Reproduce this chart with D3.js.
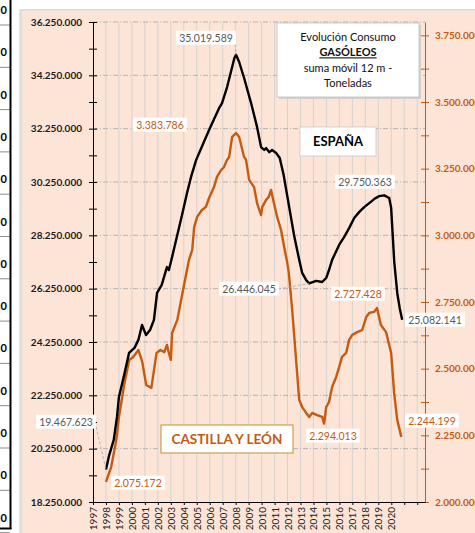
<!DOCTYPE html>
<html>
<head>
<meta charset="utf-8">
<script src="https://cdn.jsdelivr.net/npm/d3@7"></script>
<style>
  body { margin: 0; background: #fff; }
  svg { display: block; font-family: Lato, "Open Sans", sans-serif; }
</style>
</head>
<body>
<svg id="chart" width="475" height="533" viewBox="0 0 475 533"></svg>
<script>
// ESPAÑA (toneladas, suma móvil 12 m) - fecha en años decimales
const espanaDates = [1998.0, 1998.25, 1998.6, 1998.85, 1999.0, 1999.4, 1999.78, 2000.2, 2000.5, 2000.78,
    2001.09, 2001.4, 2001.7, 2001.94, 2002.3, 2002.7, 2002.85, 2003.1, 2003.5, 2003.9,
    2004.25, 2004.56, 2004.95, 2005.45, 2005.95, 2006.72, 2006.95, 2007.34, 2007.73, 2007.9,
    2008.03, 2008.27, 2008.65, 2009.19, 2009.65, 2009.96, 2010.2, 2010.35, 2010.6, 2010.81,
    2011.12, 2011.4, 2011.7, 2012.1, 2012.5, 2012.9, 2013.13, 2013.44, 2013.67, 2014.2,
    2014.67, 2014.98, 2015.2, 2015.44, 2015.98, 2016.37, 2016.75, 2017.14, 2017.52, 2017.91,
    2018.3, 2018.68, 2019.07, 2019.45, 2019.84, 2019.99, 2020.23, 2020.46, 2020.65, 2020.84];
const espanaValues = [19467623, 20010000, 20580000, 21440000, 22190000, 23010000, 23840000, 24030000, 24330000, 24890000,
    24510000, 24700000, 25080000, 26090000, 26390000, 27060000, 26950000, 27440000, 28260000, 29090000,
    29840000, 30440000, 31070000, 31640000, 32200000, 33020000, 33210000, 33810000, 34560000, 34900000,
    35019589, 34750000, 34150000, 33210000, 32310000, 31560000, 31450000, 31520000, 31370000, 31450000,
    31340000, 31150000, 30510000, 29390000, 28260000, 27330000, 26840000, 26570000, 26446045, 26540000,
    26500000, 26650000, 26950000, 27330000, 27890000, 28190000, 28520000, 28900000, 29120000, 29310000,
    29460000, 29610000, 29720000, 29750363, 29650000, 29280000, 27250000, 26090000, 25520000, 25082141];

// CASTILLA Y LEÓN
const cylDates = [1998.0, 1998.4, 1998.8, 1999.0, 1999.4, 1999.8, 2000.1, 2000.5, 2000.8, 2001.1,
    2001.5, 2001.9, 2002.2, 2002.5, 2002.7, 2002.85, 2003.0, 2003.1, 2003.5, 2003.9,
    2004.2, 2004.4, 2004.65, 2004.8, 2005.03, 2005.4, 2005.7, 2005.95, 2006.33, 2006.56,
    2006.88, 2007.1, 2007.34, 2007.5, 2007.73, 2008.03, 2008.27, 2008.65, 2008.8, 2009.04,
    2009.42, 2009.65, 2009.96, 2010.05, 2010.35, 2010.55, 2010.73, 2010.95, 2011.2, 2011.5,
    2011.74, 2011.97, 2012.1, 2012.36, 2012.66, 2012.9, 2013.13, 2013.44, 2013.67, 2013.9,
    2014.28, 2014.67, 2014.82, 2014.98, 2015.2, 2015.44, 2015.75, 2015.98, 2016.2, 2016.52,
    2016.75, 2016.98, 2017.37, 2017.76, 2018.07, 2018.3, 2018.68, 2018.9, 2019.2, 2019.6,
    2019.99, 2020.22, 2020.46, 2020.77];
const cylValues = [2075172, 2131000, 2233000, 2319000, 2439000, 2533000, 2544000, 2570000, 2525000, 2439000,
    2428000, 2559000, 2570000, 2562000, 2589000, 2559000, 2533000, 2634000, 2683000, 2784000,
    2859000, 2908000, 2945000, 3031000, 3069000, 3095000, 3106000, 3140000, 3181000, 3219000,
    3245000, 3256000, 3283000, 3294000, 3369000, 3383786, 3369000, 3294000, 3283000, 3208000,
    3181000, 3121000, 3076000, 3106000, 3133000, 3144000, 3170000, 3121000, 3069000, 3020000,
    2956000, 2900000, 2859000, 2720000, 2533000, 2383000, 2356000, 2334000, 2319000, 2334000,
    2326000, 2319000, 2294013, 2356000, 2375000, 2431000, 2469000, 2506000, 2544000, 2559000,
    2608000, 2626000, 2637000, 2645000, 2694000, 2709000, 2713000, 2727428, 2664000, 2637000,
    2559000, 2409000, 2308000, 2244199];

const years = d3.range(1997, 2023);
const labelYears = d3.range(1997, 2021);
const leftTicks = d3.range(18250000, 36250001, 1000000);
const rightTicks = d3.range(2000000, 3800001, 125000);

const titleLines = ["Evolución Consumo", "GASÓLEOS", "suma móvil 12 m -", "Toneladas"];

const fmt = v => d3.format(",")(v).replace(/,/g, ".");

const svg = d3.select("#chart");
const orange = "#C55A11";

// tabla recortada a la izquierda
const tableRows = d3.range(0, 13);
svg.append("g").selectAll("line")
    .data(tableRows)
    .enter()
    .append("line")
    .attr("x1", 0).attr("x2", 10)
    .attr("y1", d => 25 + d * 42.3).attr("y2", d => 25 + d * 42.3)
    .attr("stroke", "#8c8c8c").attr("stroke-width", 1);
svg.append("g").selectAll("text")
    .data(tableRows)
    .enter()
    .append("text")
    .attr("x", 7).attr("y", d => 14 + d * 42.3)
    .attr("text-anchor", "end")
    .attr("font-weight", "bold").attr("font-size", 11)
    .text("0");
svg.append("line").attr("x1", 10.5).attr("x2", 10.5).attr("y1", 0).attr("y2", 529)
    .attr("stroke", "#000").attr("stroke-width", 2);
svg.append("line").attr("x1", 0).attr("x2", 11.5).attr("y1", 528.5).attr("y2", 528.5)
    .attr("stroke", "#000").attr("stroke-width", 2);

// fondo del gráfico
svg.append("rect").attr("x", 19).attr("y", 9).attr("width", 470).attr("height", 540)
    .attr("fill", "#e6e6e6");
svg.append("rect").attr("x", 21).attr("y", 10).attr("width", 460).attr("height", 540)
    .attr("fill", "#FCE4D6").attr("stroke", "#d0d0d0").attr("stroke-width", 0.8);

const x = d3.scaleLinear().domain([1997, 2022.6]).range([93, 425]);
const yL = d3.scaleLinear().domain([18250000, 36250000]).range([502, 22]);
const yR = d3.scaleLinear().domain([2000000, 3800000]).range([502, 22]);

// rejilla vertical
svg.append("g").selectAll("line")
    .data(years.slice(1))
    .enter()
    .append("line")
    .attr("x1", d => x(d)).attr("x2", d => x(d))
    .attr("y1", yL.range()[1]).attr("y2", yL.range()[0])
    .attr("stroke", "#d6d3d0").attr("stroke-width", 1);

// rejilla horizontal
svg.append("g").selectAll("line")
    .data(leftTicks.filter((d, i) => i % 2 === 0 && i > 0))
    .enter()
    .append("line")
    .attr("x1", x.range()[0]).attr("x2", x.range()[1])
    .attr("y1", d => yL(d)).attr("y2", d => yL(d))
    .attr("stroke", "#a6a6a6").attr("stroke-width", 0.8)
    .attr("stroke-dasharray", "5,2,1,2");

// eje izquierdo
const leftAxis = svg.append("g").attr("transform", `translate(${x.range()[0]},0)`)
    .call(d3.axisLeft(yL).tickValues(leftTicks).tickSizeInner(4).tickSizeOuter(0)
        .tickFormat((d, i) => i % 2 === 0 ? fmt(d) : ""));
leftAxis.select(".domain").attr("stroke", "#000");
leftAxis.selectAll(".tick line").attr("x2", 4).attr("x1", -4).attr("stroke", "#000");
leftAxis.selectAll(".tick text")
    .attr("x", -11)
    .attr("font-family", "Lato, sans-serif").attr("font-size", 10).attr("font-weight", "bold")
    .attr("fill", "#1a1a1a");

// eje derecho
const rightAxis = svg.append("g").attr("transform", `translate(${x.range()[1]},0)`)
    .call(d3.axisRight(yR).tickValues(rightTicks).tickSizeInner(4).tickSizeOuter(0)
        .tickFormat((d, i) => i % 2 === 0 ? fmt(d) : ""));
rightAxis.select(".domain").attr("stroke", orange);
rightAxis.selectAll(".tick line").attr("x1", -4).attr("x2", 4).attr("stroke", orange);
rightAxis.selectAll(".tick text")
    .attr("x", 10)
    .attr("font-family", "Lato, sans-serif").attr("font-size", 10).attr("font-weight", "bold")
    .attr("fill", orange);

// eje x
const xAxis = svg.append("g").attr("transform", `translate(0,${yL.range()[0]})`)
    .call(d3.axisBottom(x).tickValues(years).tickSizeInner(3).tickSizeOuter(0)
        .tickFormat(d => labelYears.includes(d) ? String(d) : ""));
xAxis.select(".domain").attr("stroke", "#000");
xAxis.selectAll(".tick line").attr("stroke", "#000");
xAxis.selectAll(".tick text")
    .attr("transform", "rotate(-90)")
    .attr("text-anchor", "end")
    .attr("x", -5).attr("y", 0).attr("dy", "0.35em")
    .attr("font-family", "Lato, sans-serif").attr("font-size", 10)
    .attr("fill", "#222");

// líneas
const espana = espanaDates.map((d, i) => ({ t: d, v: espanaValues[i] }));
const cyl = cylDates.map((d, i) => ({ t: d, v: cylValues[i] }));

svg.append("path").datum(cyl)
    .attr("fill", "none").attr("stroke", orange).attr("stroke-width", 2.4)
    .attr("stroke-linejoin", "round")
    .attr("d", d3.line().x(d => x(d.t)).y(d => yR(d.v)));
svg.append("path").datum(espana)
    .attr("fill", "none").attr("stroke", "#000").attr("stroke-width", 2.4)
    .attr("stroke-linejoin", "round")
    .attr("d", d3.line().x(d => x(d.t)).y(d => yL(d.v)));

// etiquetas de datos
const espanaLabels = [
    { v: 19467623, cx: 66, cy: 422, lead: true },
    { v: 35019589, cx: 206, cy: 38, lead: true },
    { v: 26446045, cx: 249, cy: 289, lead: true },
    { v: 29750363, cx: 365, cy: 182, lead: false },
    { v: 25082141, cx: 435, cy: 320, lead: false }
];
const cylLabels = [
    { v: 2075172, cx: 138, cy: 483 },
    { v: 3383786, cx: 160, cy: 125 },
    { v: 2294013, cx: 333, cy: 436 },
    { v: 2727428, cx: 358, cy: 294 },
    { v: 2244199, cx: 432, cy: 421 }
];

function pointOf(series, v) {
    return series.find(d => d.v === v);
}

espanaLabels.filter(d => d.lead).forEach(d => {
    const p = pointOf(espana, d.v);
    const w = 58;
    const sx = d.cx + (x(p.t) > d.cx ? w / 2 : -w / 2);
    svg.append("line")
        .attr("x1", sx).attr("y1", d.cy + (d.cy < 60 ? 6 : 0))
        .attr("x2", x(p.t)).attr("y2", yL(p.v))
        .attr("stroke", "#a6a6a6").attr("stroke-width", 0.8)
        .attr("stroke-dasharray", "3,2");
});

function drawLabel(d, color) {
    const g = svg.append("g");
    const t = g.append("text")
        .attr("x", d.cx).attr("y", d.cy).attr("dy", "0.35em")
        .attr("text-anchor", "middle")
        .attr("font-family", "Lato, sans-serif").attr("font-size", 10.5)
        .attr("fill", color)
        .text(fmt(d.v));
    const b = t.node().getBBox();
    g.insert("rect", "text")
        .attr("x", b.x - 3).attr("y", b.y - 1)
        .attr("width", b.width + 6).attr("height", b.height + 2)
        .attr("fill", "#fff");
}
espanaLabels.forEach(d => drawLabel(d, "#595959"));
cylLabels.forEach(d => drawLabel(d, orange));

// título
svg.append("rect").attr("x", 279).attr("y", 25).attr("width", 142).attr("height", 74)
    .attr("fill", "#d5d0cc");
svg.append("rect").attr("x", 277).attr("y", 23).attr("width", 142).attr("height", 74)
    .attr("fill", "#fff").attr("stroke", "#bfbfbf").attr("stroke-width", 0.8);
svg.append("g").selectAll("text")
    .data(titleLines)
    .enter()
    .append("text")
    .attr("x", 348).attr("y", (d, i) => 37 + i * 15.5).attr("dy", "0.35em")
    .attr("text-anchor", "middle")
    .attr("font-family", "Lato, sans-serif").attr("font-size", 11)
    .attr("font-weight", (d, i) => i === 1 ? "bold" : "normal")
    .attr("text-decoration", (d, i) => i === 1 ? "underline" : "none")
    .attr("fill", "#111")
    .text(d => d);

// rótulos de serie
svg.append("rect").attr("x", 300).attr("y", 127).attr("width", 76).attr("height", 29)
    .attr("fill", "#fff").attr("stroke", "#c8c8c8").attr("stroke-width", 0.8);
svg.append("text").attr("x", 338).attr("y", 141.5).attr("dy", "0.35em")
    .attr("text-anchor", "middle")
    .attr("font-family", "Lato, sans-serif").attr("font-size", 13).attr("font-weight", "bold")
    .attr("fill", "#000")
    .text("ESPAÑA");

svg.append("rect").attr("x", 161).attr("y", 425).attr("width", 132).attr("height", 28)
    .attr("fill", "#fff").attr("stroke", "#c9a24e").attr("stroke-width", 1.2);
svg.append("text").attr("x", 227).attr("y", 439).attr("dy", "0.35em")
    .attr("text-anchor", "middle")
    .attr("font-family", "Lato, sans-serif").attr("font-size", 13.5).attr("font-weight", "bold")
    .attr("fill", orange)
    .text("CASTILLA Y LEÓN");
</script>
</body>
</html>
